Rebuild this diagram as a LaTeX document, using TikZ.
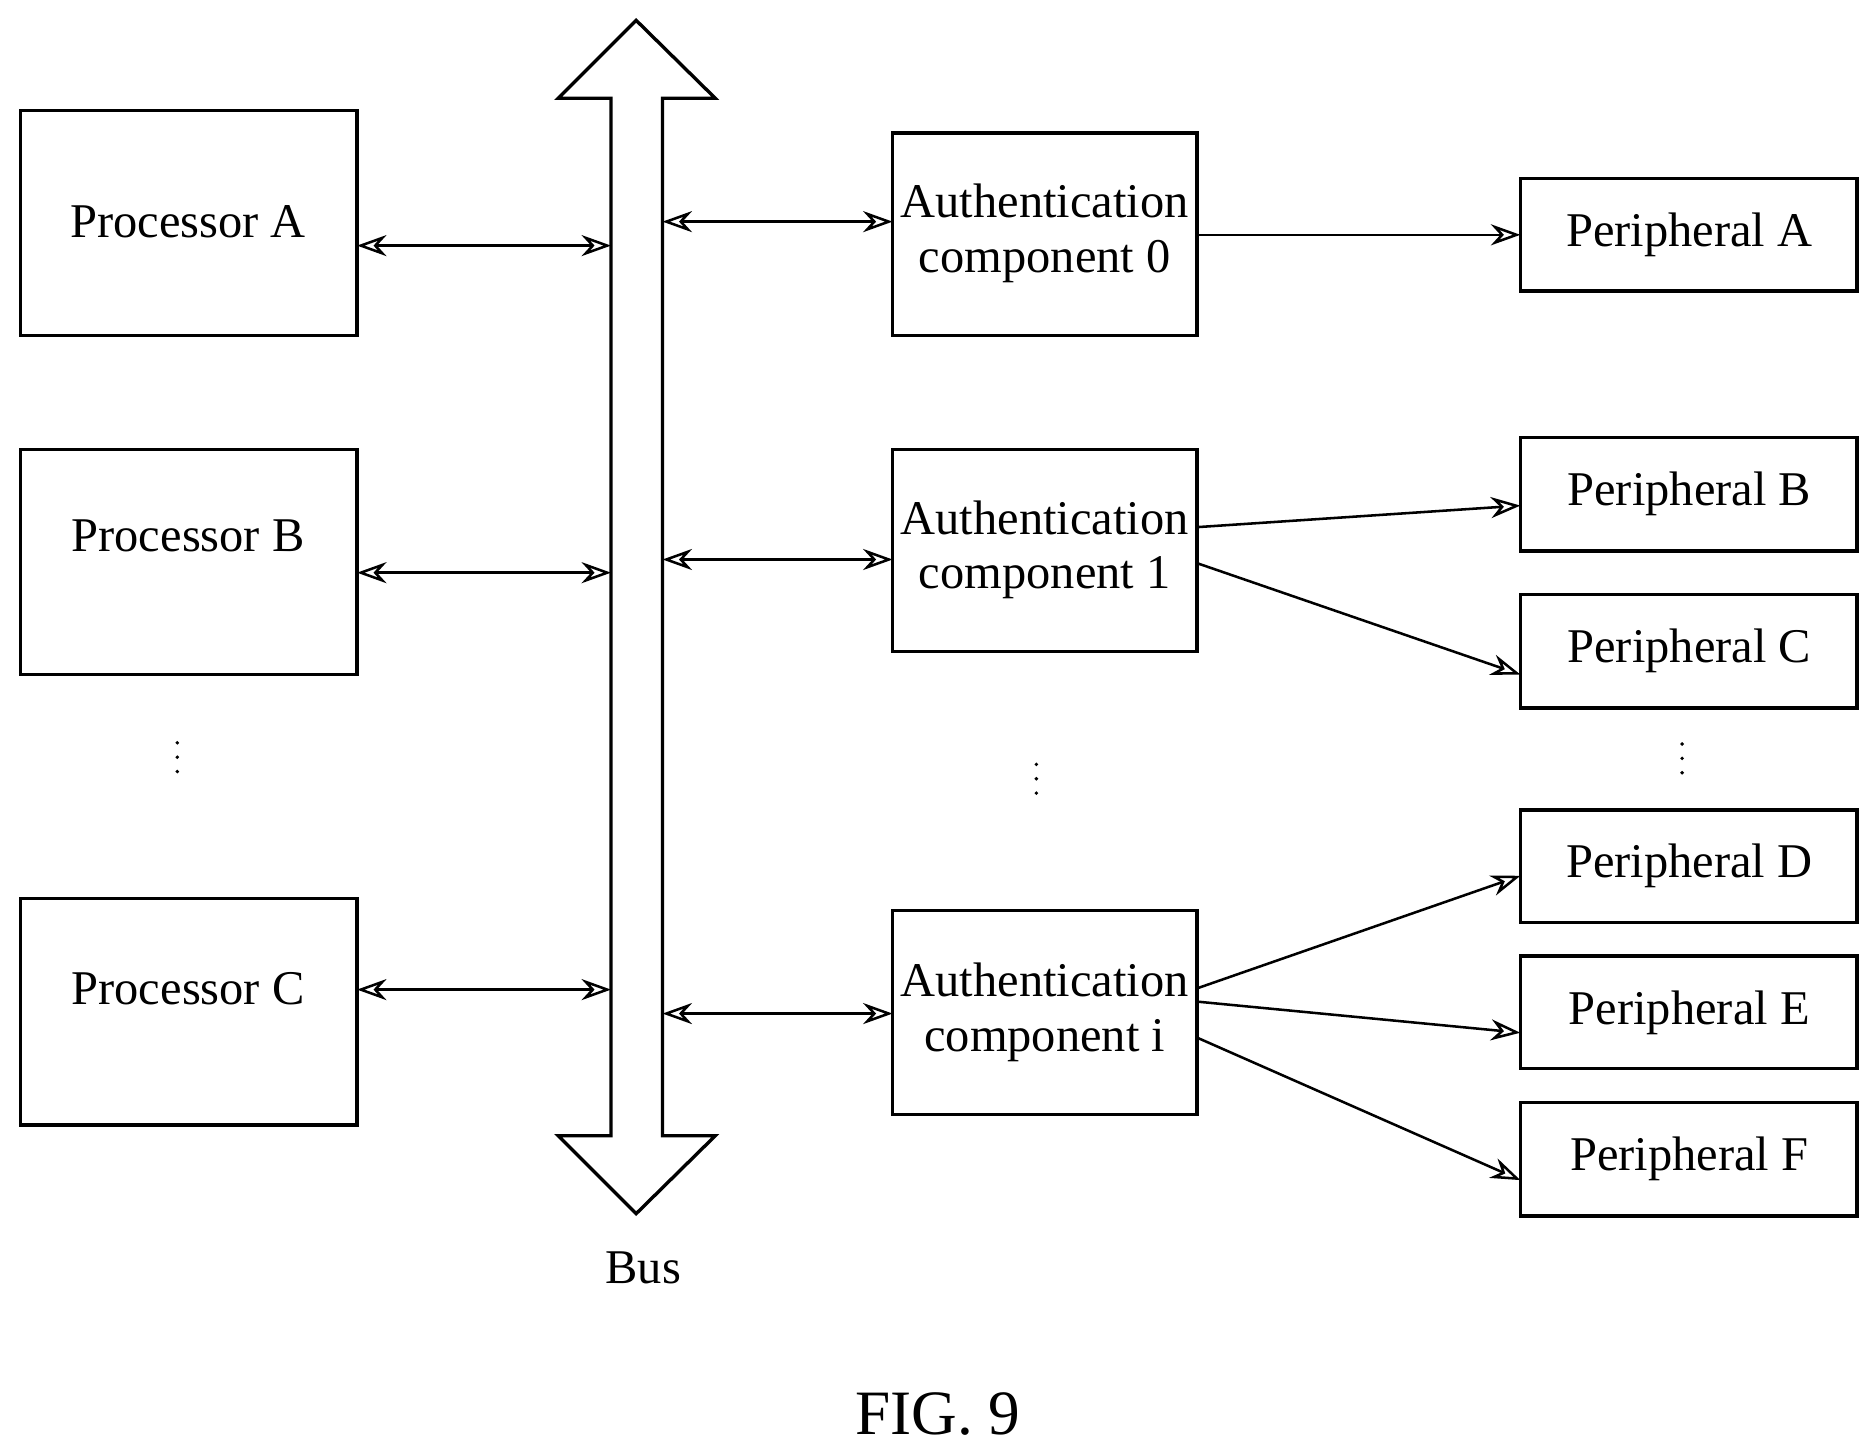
\documentclass[tikz,border=0pt]{standalone}
\usepackage{fontspec}
\setmainfont{Liberation Serif}
\usetikzlibrary{arrows.meta}
\begin{document}
\begin{tikzpicture}[x=0.01cm,y=-0.01cm,
 box/.style={draw,line width=0.8pt},
 txt/.style={font=\fontsize{11.5}{13}\selectfont,align=center,inner sep=1pt},
 conn/.style={line width=0.6pt,-{Stealth[length=7pt,width=5pt,open]}},
 bi/.style={line width=0.6pt,{Stealth[length=7pt,width=5pt,open]}-{Stealth[length=7pt,width=5pt,open]}}]
\useasboundingbox (0,0) rectangle (1565,1212);
% processors
\draw[box] (17,92) rectangle (298,280);
\draw[box] (17,375) rectangle (298,563);
\draw[box] (17,750) rectangle (298,939);
\node[txt] (tpa) at (157,185) {Processor A};
\node[txt] (tpb) at (157,447) {Processor B};
\node[txt] (tpc) at (157,825) {Processor C};
\foreach \x/\y in {148/632, 865/650, 1404/633}
  \foreach \d in {-12,0,12} \fill (\x,\y+\d) circle (1.6);
% bus
\draw[line width=0.8pt] (510,82) -- (466,82) -- (531,17) -- (597,82) -- (553,82) -- (553,948) -- (597,948) -- (531,1013) -- (466,948) -- (510,948) -- cycle;
\node[txt] (bus) at (537,1058) {Bus};
\coordinate (p1a) at (298,205); \coordinate (b1a) at (510,205);
\coordinate (p1b) at (298,478); \coordinate (b1b) at (510,478);
\coordinate (p1c) at (298,826); \coordinate (b1c) at (510,826);
\draw[bi] (p1a) -- (b1a); \draw[bi] (p1b) -- (b1b); \draw[bi] (p1c) -- (b1c);
% auth
\draw[box] (745,111) rectangle (999,280);
\draw[box] (745,375) rectangle (999,544);
\draw[box] (745,760) rectangle (999,930);
\node[txt] (a0) at (872,195) {Authentication\\component 0};
\node[txt] (a1) at (872,459) {Authentication\\component 1};
\node[txt] (ai) at (872,845) {Authentication\\component i};
\coordinate (r0) at (553,185); \coordinate (l0) at (745,185);
\coordinate (r1) at (553,467); \coordinate (l1) at (745,467);
\coordinate (r2) at (553,846); \coordinate (l2) at (745,846);
\draw[bi] (r0) -- (l0); \draw[bi] (r1) -- (l1); \draw[bi] (r2) -- (l2);
% peripherals
\foreach \n/\t/\b/\l in {A/149/243/A, B/365/460/B, C/496/591/C, D/676/770/D, E/798/892/E, F/920/1015/F}{
 \draw[box] (1269,\t) rectangle (1550,\b);
 \node[txt] (per\n) at (1410,{(\t+\b)/2}) {Peripheral \l};
}
\draw[conn] (999,196) -- (1269,196);
\draw[conn] (999,440) -- (1269,422);
\draw[conn] (999,470) -- (1269,563);
\draw[conn] (999,825) -- (1269,731);
\draw[conn] (999,836) -- (1269,862);
\draw[conn] (999,866) -- (1269,985);
\node[font=\fontsize{15}{18}\selectfont] (fig) at (783,1180) {FIG. 9};
\end{tikzpicture}
\end{document}
